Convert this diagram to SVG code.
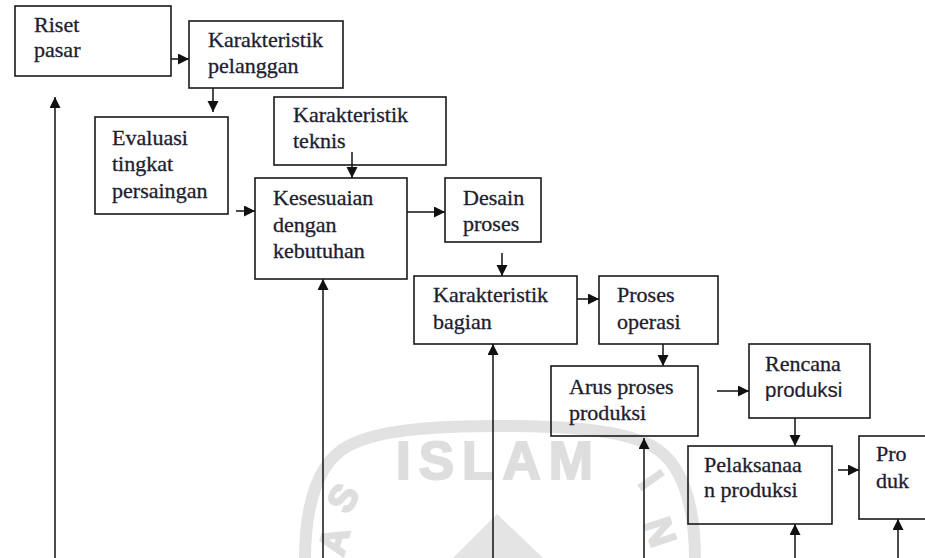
<svg xmlns="http://www.w3.org/2000/svg" width="925" height="558" viewBox="0 0 925 558">
<defs>
<style>
.box{fill:none;stroke:#1a1a1a;stroke-width:1.6}
.t{font-family:"Liberation Serif","Times New Roman",serif;font-size:21px;fill:#1e1e30;stroke:#1e1e30;stroke-width:0.3}
.ts{font-family:"Liberation Sans",Arial,sans-serif;font-size:19.5px;fill:#1e1e30;stroke:#1e1e30;stroke-width:0.2}
.c{fill:none;stroke:#111;stroke-width:1.5;marker-end:url(#ah)}
.wm{fill:#dedede;stroke:#dedede;stroke-width:2;font-family:"Liberation Sans",Arial,sans-serif;font-weight:bold}
</style>
<marker id="ah" markerUnits="userSpaceOnUse" markerWidth="12" markerHeight="12" refX="11" refY="5.5" orient="auto">
<path d="M0,0 L11,5.5 L0,11 z" fill="#111"/>
</marker>
</defs>
<rect x="0" y="0" width="925" height="558" fill="#fff"/>

<g id="watermark">
<path d="M305,560 C305,500 320,460 350,445 C380,430 430,426 500,426 C570,426 620,430 650,445 C680,460 695,500 695,560" fill="none" stroke="#e2e2e2" stroke-width="12"/>
<text class="wm" x="396" y="479" font-size="53" letter-spacing="8">ISLAM</text>
<text class="wm" font-size="38" text-anchor="middle" transform="translate(343,498) rotate(-60)" dy="13">S</text>
<text class="wm" font-size="38" text-anchor="middle" transform="translate(334,541) rotate(-75)" dy="13">A</text>
<text class="wm" font-size="38" text-anchor="middle" transform="translate(651,480) rotate(55)" dy="13">I</text>
<text class="wm" font-size="38" text-anchor="middle" transform="translate(660,532) rotate(72)" dy="13">N</text>
<path d="M497,514 L543,558 L453,558 z" fill="#e4e4e4"/>
</g>

<g id="connectors">
<line class="c" x1="171" y1="59" x2="189" y2="59"/>
<line class="c" x1="213" y1="88" x2="213" y2="112"/>
<line class="c" x1="352" y1="152" x2="352" y2="178"/>
<line class="c" x1="236" y1="211" x2="255" y2="211"/>
<line class="c" x1="407" y1="212" x2="445" y2="212"/>
<line class="c" x1="502" y1="253" x2="502" y2="276"/>
<line class="c" x1="577" y1="299" x2="599" y2="299"/>
<line class="c" x1="663" y1="344" x2="663" y2="366"/>
<line class="c" x1="717" y1="391" x2="749" y2="391"/>
<line class="c" x1="795" y1="418" x2="795" y2="446"/>
<line class="c" x1="838" y1="470" x2="859" y2="470"/>
<line class="c" x1="55" y1="560" x2="55" y2="97"/>
<line class="c" x1="323" y1="560" x2="323" y2="279"/>
<line class="c" x1="493" y1="560" x2="493" y2="344"/>
<line class="c" x1="644" y1="560" x2="644" y2="438"/>
<line class="c" x1="795" y1="560" x2="795" y2="524"/>
<line class="c" x1="898" y1="560" x2="898" y2="519"/>
</g>

<g id="riset-pasar">
<rect class="box" x="15" y="6" width="156" height="70"/>
<text class="t" transform="translate(34,32) scale(1.05,1)">Riset</text>
<text class="t" transform="translate(34,57) scale(1.05,1)">pasar</text>
</g>

<g id="karakteristik-pelanggan">
<rect class="box" x="189" y="21" width="154" height="67"/>
<text class="t" transform="translate(208,47) scale(1.05,1)">Karakteristik</text>
<text class="t" transform="translate(208,73) scale(1.05,1)">pelanggan</text>
</g>

<g id="evaluasi-tingkat-persaingan">
<rect class="box" x="95" y="117" width="133" height="97"/>
<text class="t" transform="translate(112,145) scale(1.05,1)">Evaluasi</text>
<text class="t" transform="translate(112,171) scale(1.05,1)">tingkat</text>
<text class="t" transform="translate(112,198) scale(1.05,1)">persaingan</text>
</g>

<g id="karakteristik-teknis">
<rect class="box" x="274" y="97" width="172" height="68"/>
<text class="t" transform="translate(293,122) scale(1.05,1)">Karakteristik</text>
<text class="t" transform="translate(293,148) scale(1.05,1)">teknis</text>
</g>

<g id="kesesuaian-dengan-kebutuhan">
<rect class="box" x="255" y="178" width="152" height="101"/>
<text class="t" transform="translate(273,205) scale(1.05,1)">Kesesuaian</text>
<text class="t" transform="translate(273,232) scale(1.05,1)">dengan</text>
<text class="t" transform="translate(273,258) scale(1.05,1)">kebutuhan</text>
</g>

<g id="desain-proses">
<rect class="box" x="445" y="178" width="96" height="64"/>
<text class="t" transform="translate(463,205) scale(1.05,1)">Desain</text>
<text class="t" transform="translate(463,231) scale(1.05,1)">proses</text>
</g>

<g id="karakteristik-bagian">
<rect class="box" x="414" y="276" width="163" height="68"/>
<text class="t" transform="translate(433,302) scale(1.05,1)">Karakteristik</text>
<text class="t" transform="translate(433,329) scale(1.05,1)">bagian</text>
</g>

<g id="proses-operasi">
<rect class="box" x="599" y="276" width="119" height="68"/>
<text class="t" transform="translate(617,302) scale(1.05,1)">Proses</text>
<text class="t" transform="translate(617,329) scale(1.05,1)">operasi</text>
</g>

<g id="arus-proses-produksi">
<rect class="box" x="551" y="366" width="147" height="70"/>
<text class="t" transform="translate(569,394) scale(1.05,1)">Arus proses</text>
<text class="t" transform="translate(569,420) scale(1.05,1)">produksi</text>
</g>

<g id="rencana-produksi">
<rect class="box" x="749" y="344" width="121" height="74"/>
<text class="t" transform="translate(765,371) scale(1.05,1)">Rencana</text>
<text class="ts" transform="translate(765,397) scale(1.05,1)">produksi</text>
</g>

<g id="pelaksanaan-produksi">
<rect class="box" x="688" y="446" width="144" height="78"/>
<text class="t" transform="translate(704,472) scale(1.05,1)">Pelaksanaa</text>
<text class="t" transform="translate(704,497) scale(1.05,1)">n produksi</text>
</g>

<g id="produk">
<rect class="box" x="859" y="436" width="80" height="83"/>
<text class="t" transform="translate(876,461) scale(1.05,1)">Pro</text>
<text class="t" transform="translate(876,488) scale(1.05,1)">duk</text>
</g>
</svg>
